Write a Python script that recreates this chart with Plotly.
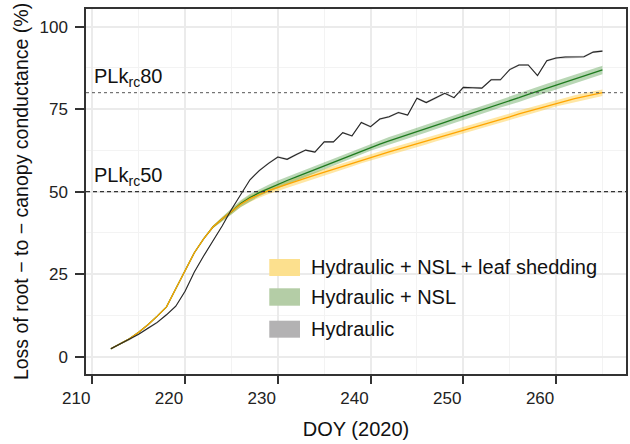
import plotly.graph_objects as go

# ---------------- data ----------------
doy = [212, 213, 214, 215, 216, 217, 218, 219, 220, 221, 222, 223, 224, 225, 226, 227, 228, 229,
       230, 231, 232, 233, 234, 235, 236, 237, 238, 239, 240, 241, 242, 243, 244, 245, 246, 247,
       248, 249, 250, 251, 252, 253, 254, 255, 256, 257, 258, 259, 260, 261, 262, 263, 264, 265]

hydraulic = [2.4, 3.9, 5.2, 6.8, 8.6, 10.4, 12.7, 15.3, 19.8, 25.7, 30.5, 35.0, 39.6, 44.6, 49.2, 53.6, 56.4, 58.6,
             60.5, 59.8, 61.3, 62.6, 62.0, 65.1, 65.1, 67.9, 66.9, 71.0, 69.7, 72.0, 72.7, 74.0, 73.2, 78.3, 77.0, 78.3,
             79.8, 78.5, 81.6, 81.5, 81.4, 83.9, 83.9, 87.0, 88.4, 88.4, 85.2, 89.7, 90.5, 90.8, 90.8, 90.9, 92.3, 92.6]

hydraulic_nsl = [2.4, 3.9, 5.4, 7.4, 9.7, 12.3, 15.1, 20.6, 26.3, 31.5, 35.7, 39.3, 41.7, 43.9, 46.4, 48.2, 49.7, 51.0,
                 52.3, 53.4, 54.5, 55.6, 56.7, 57.8, 58.9, 60.1, 61.2, 62.4, 63.5, 64.4, 65.4, 66.3, 67.3, 68.2, 69.1, 70.1,
                 71.0, 72.0, 72.9, 73.8, 74.8, 75.7, 76.7, 77.6, 78.5, 79.5, 80.4, 81.4, 82.3, 83.2, 84.1, 85.1, 86.0, 86.9]

hydraulic_nsl_shed = [2.4, 3.9, 5.4, 7.4, 9.7, 12.3, 15.1, 20.6, 26.3, 31.5, 35.7, 39.3, 41.7, 43.9, 46.2, 47.9, 49.2, 50.3,
                      51.3, 52.3, 53.2, 54.1, 55.0, 55.9, 56.8, 57.7, 58.6, 59.6, 60.5, 61.3, 62.1, 62.9, 63.7, 64.5, 65.3, 66.2,
                      67.0, 67.8, 68.6, 69.4, 70.2, 71.1, 71.9, 72.7, 73.6, 74.4, 75.2, 76.0, 76.8, 77.5, 78.2, 78.8, 79.4, 80.0]

# ribbon half-widths (uncertainty bands)
hydraulic_hw = [0.3, 0.3, 0.3, 0.3, 0.3, 0.3, 0.3, 0.3, 0.3, 0.3, 0.3, 0.3, 0.3, 0.3, 0.3, 0.3, 0.3, 0.3,
                0.3, 0.3, 0.3, 0.3, 0.3, 0.3, 0.3, 0.3, 0.3, 0.3, 0.3, 0.3, 0.3, 0.3, 0.3, 0.3, 0.3, 0.3,
                0.3, 0.3, 0.3, 0.3, 0.3, 0.3, 0.3, 0.3, 0.3, 0.3, 0.3, 0.3, 0.3, 0.3, 0.3, 0.3, 0.3, 0.3]
nsl_hw = [0.2, 0.2, 0.2, 0.2, 0.2, 0.2, 0.2, 0.2, 0.2, 0.2, 0.2, 0.4, 0.6, 0.8, 1.0, 1.1, 1.1, 1.1,
          1.1, 1.1, 1.1, 1.1, 1.1, 1.1, 1.1, 1.1, 1.1, 1.1, 1.1, 1.2, 1.2, 1.2, 1.2, 1.2, 1.2, 1.2,
          1.2, 1.2, 1.2, 1.2, 1.2, 1.2, 1.2, 1.2, 1.3, 1.3, 1.3, 1.3, 1.3, 1.3, 1.3, 1.3, 1.3, 1.3]
shed_hw = [0.2, 0.2, 0.2, 0.2, 0.2, 0.2, 0.2, 0.2, 0.2, 0.2, 0.2, 0.4, 0.6, 0.8, 0.9, 1.0, 1.0, 1.0,
           1.0, 1.0, 1.0, 1.0, 1.0, 1.0, 1.0, 1.0, 1.0, 1.0, 1.0, 1.0, 1.0, 1.0, 1.0, 1.0, 1.0, 1.0,
           1.0, 1.0, 1.0, 1.0, 1.0, 1.0, 1.0, 1.0, 1.0, 1.0, 1.0, 1.0, 1.0, 1.0, 1.0, 1.0, 1.0, 1.0]

series_names = ["Hydraulic + NSL + leaf shedding", "Hydraulic + NSL", "Hydraulic"]
plk_levels = [80, 50]
plk_labels = ["PLk<sub>rc</sub>80", "PLk<sub>rc</sub>50"]
x_ticks = [210, 220, 230, 240, 250, 260]
y_ticks = [0, 25, 50, 75, 100]

# ---------------- figure ----------------
FONT = "Liberation Sans, Arial, sans-serif"
fig = go.Figure()


def ribbon(x, y, hw, color):
    lo = [a - b for a, b in zip(y, hw)]
    up = [a + b for a, b in zip(y, hw)]
    fig.add_trace(go.Scatter(x=x + x[::-1], y=up + lo[::-1], fill="toself",
                             fillcolor=color, line=dict(width=0), mode="lines",
                             hoverinfo="skip", showlegend=False))


ribbon(doy, hydraulic_nsl_shed, shed_hw, "rgba(255,196,30,0.40)")
ribbon(doy, hydraulic_nsl, nsl_hw, "rgba(70,150,60,0.38)")
ribbon(doy, hydraulic, hydraulic_hw, "rgba(0,0,0,0.18)")

fig.add_trace(go.Scatter(x=doy, y=hydraulic_nsl, mode="lines", name=series_names[1],
                         line=dict(color="#1E7B1E", width=1.3), showlegend=False))
fig.add_trace(go.Scatter(x=doy, y=hydraulic_nsl_shed, mode="lines", name=series_names[0],
                         line=dict(color="#FFA500", width=1.3), showlegend=False))
fig.add_trace(go.Scatter(x=doy, y=hydraulic, mode="lines", name=series_names[2],
                         line=dict(color="#262626", width=1.1), showlegend=False))

# reference lines
fig.add_hline(y=plk_levels[0], line=dict(color="#555555", width=1, dash="dot"))
fig.add_hline(y=plk_levels[1], line=dict(color="#333333", width=1.2, dash="4px,3px"))
for lvl, lab in zip(plk_levels, plk_labels):
    fig.add_annotation(x=210.0, y=lvl, text=lab, showarrow=False, xanchor="left",
                       yanchor="bottom", yshift=1,
                       font=dict(family=FONT, size=20, color="#111111"))

# manual legend (ggplot-style fill keys)
key_colors = ["#FCE08E", "#B4CDA6", "#B3B2B3"]
key_y = [(0.2685, 0.3151), (0.1871, 0.2348), (0.0995, 0.1460)]
for name, col, (y0, y1) in zip(series_names, key_colors, key_y):
    fig.add_shape(type="rect", xref="paper", yref="paper", x0=0.3394, x1=0.3963,
                  y0=y0, y1=y1, fillcolor=col, line=dict(width=0), layer="above")
    fig.add_annotation(xref="paper", yref="paper", x=0.4135, y=(y0 + y1) / 2,
                       text=name, showarrow=False, xanchor="left", yanchor="middle",
                       font=dict(family=FONT, size=20, color="#111111"))

axis_common = dict(
    showline=True, mirror=True, linecolor="#333333", linewidth=1.5,
    ticks="outside", tickcolor="#333333", tickwidth=1.5, automargin=False,
    showgrid=True, gridcolor="#EBEBEB", gridwidth=1.6, zeroline=False,
    tickfont=dict(family=FONT, size=17, color="#222222"),
)

fig.update_layout(
    width=630, height=444,
    margin=dict(l=86, r=4, t=9, b=70),
    plot_bgcolor="white", paper_bgcolor="white",
    font=dict(family=FONT, color="#111111"),
    showlegend=False,
    xaxis=dict(range=[209.32, 267.54], tickvals=x_ticks, ticklen=8,
               ticklabelshift=-16,
               minor=dict(tickvals=[215, 225, 235, 245, 255, 265], showgrid=True,
                          gridcolor="#F3F3F3", gridwidth=1, ticks=""),
               title=dict(text="DOY (2020)", font=dict(family=FONT, size=20, color="#111111"),
                          standoff=15),
               **axis_common),
    yaxis=dict(range=[-5.24, 105.36], tickvals=y_ticks, ticklen=9,
               ticklabelstandoff=4,
               minor=dict(tickvals=[12.5, 37.5, 62.5, 87.5], showgrid=True,
                          gridcolor="#F3F3F3", gridwidth=1, ticks=""),
               title=dict(text="Loss of root \u2212 to \u2212 canopy conductance (%)",
                          font=dict(family=FONT, size=19.5, color="#111111"), standoff=6),
               **axis_common),
)

fig.write_html("out.html", config={"displayModeBar": False},
               post_script="document.body.style.margin='0';document.body.style.padding='0';"
                           "document.body.style.overflow='hidden';")
